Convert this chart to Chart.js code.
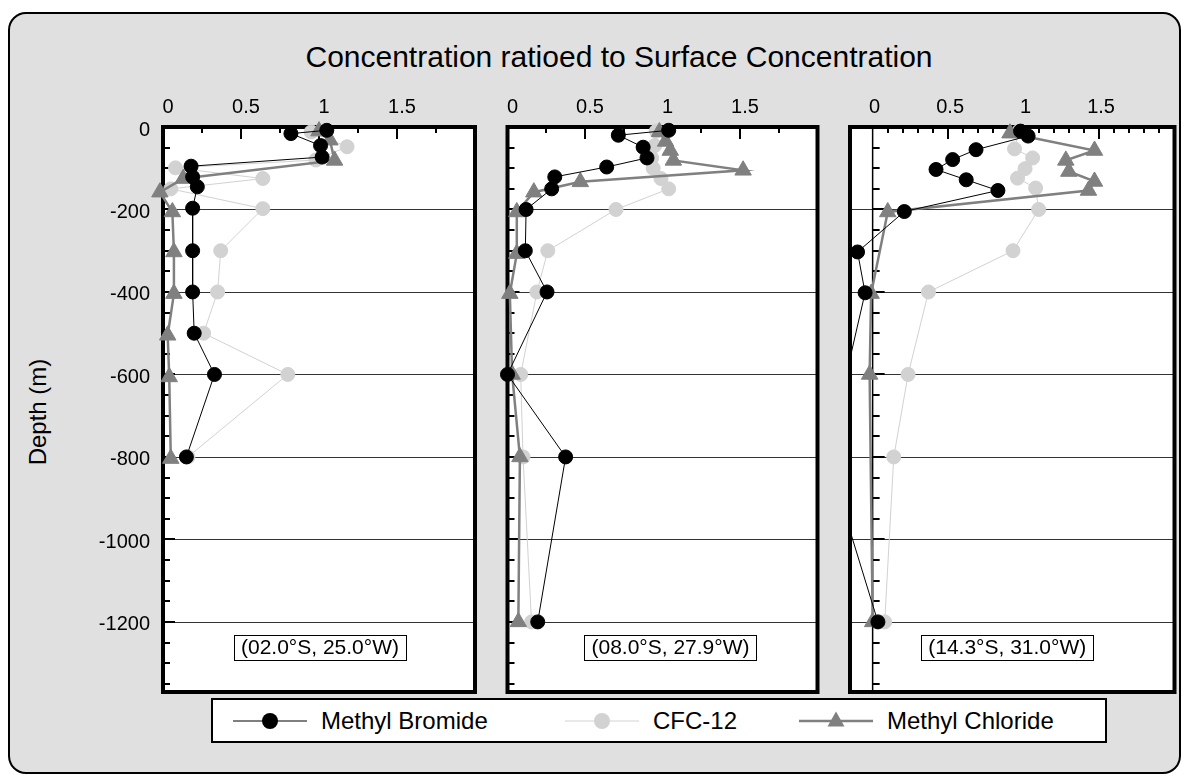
<!DOCTYPE html>
<html>
<head>
<meta charset="utf-8">
<script src="https://cdn.jsdelivr.net/npm/chart.js@4.4.0/dist/chart.umd.min.js"></script>
<style>
  body { margin: 0; width: 1189px; height: 783px; position: relative; overflow: hidden; background: #fff;
         font-family: Arial, "Liberation Sans", sans-serif; }
  #frame { position: absolute; left: 8px; top: 12px; width: 1173px; height: 762px; box-sizing: border-box;
           border: 2.5px solid #000; border-radius: 18px; background: #e0e0e0; }
  #title { position: absolute; left: 219px; width: 800px; top: 40px; text-align: center;
           font-size: 30px; line-height: 34px; color: #000; }
  #ylabel { position: absolute; left: 38px; top: 412px; transform: translate(-50%, -50%) rotate(-90deg);
            font-size: 24px; white-space: nowrap; color: #000; }
  canvas { position: absolute; }
  #legend { position: absolute; left: 211px; top: 698px; width: 896px; height: 45px; box-sizing: border-box;
            border: 2px solid #000; background: #fff; }
  .item { position: absolute; top: 0; height: 41px; display: flex; align-items: center; font-size: 24px; white-space: nowrap; }
  .item svg { margin-right: 14px; }
</style>
</head>
<body>
<div id="frame"></div>
<div id="title">Concentration ratioed to Surface Concentration</div>
<div id="ylabel">Depth (m)</div>
<canvas id="p1" width="400" height="637" style="left:90px;top:80px"></canvas>
<canvas id="p2" width="340" height="630" style="left:490px;top:80px"></canvas>
<canvas id="p3" width="350" height="630" style="left:835px;top:80px"></canvas>
<div id="legend"></div>
<script>
// series names and station labels
const seriesNames = ['Methyl Bromide', 'CFC-12', 'Methyl Chloride'];
const stations = ['(02.0°S, 25.0°W)', '(08.0°S, 27.9°W)', '(14.3°S, 31.0°W)'];

// axis ticks
const xTickLabels = [0, 0.5, 1, 1.5];
const depthTickLabels = [0, -200, -400, -600, -800, -1000, -1200];
const depthGrid = [-200, -400, -600, -800, -1000, -1200];

// panel 1 (02.0°S, 25.0°W)
const p1BromideDepth = [-8, -16, -45, -73, -95, -121, -145, -197, -300, -400, -500, -600, -800];
const p1BromideRatio = [1.05, 0.82, 1.01, 1.02, 0.18, 0.19, 0.22, 0.19, 0.19, 0.19, 0.20, 0.33, 0.15];
const p1CfcDepth = [-12, -48, -80, -99, -125, -150, -198, -300, -400, -500, -600, -800];
const p1CfcRatio = [0.95, 1.18, 0.98, 0.08, 0.64, 0.05, 0.64, 0.37, 0.35, 0.26, 0.80, 0.16];
const p1ChlorideDepth = [-10, -32, -81, -125, -158, -206, -303, -404, -505, -606, -804];
const p1ChlorideRatio = [1.0, 1.07, 1.10, 0.13, -0.02, 0.06, 0.07, 0.07, 0.03, 0.04, 0.05];

// panel 2 (08.0°S, 27.9°W)
const p2BromideDepth = [-8, -20, -49, -75, -97, -121, -150, -200, -300, -400, -600, -800, -1200];
const p2BromideRatio = [1.04, 0.715, 0.875, 0.90, 0.64, 0.305, 0.285, 0.12, 0.115, 0.255, 0.0, 0.375, 0.195];
const p2CfcDepth = [-10, -45, -75, -100, -125, -150, -200, -300, -400, -600, -800, -1200];
const p2CfcRatio = [0.96, 0.95, 0.93, 0.94, 0.99, 1.04, 0.70, 0.26, 0.19, 0.085, 0.10, 0.155];
const p2ChlorideDepth = [-12, -35, -57, -81, -105, -133, -158, -206, -307, -404, -600, -800, -1200];
const p2ChlorideRatio = [0.98, 1.02, 1.05, 1.07, 1.52, 0.47, 0.17, 0.06, 0.06, 0.015, 0.03, 0.08, 0.07];

// panel 3 (14.3°S, 31.0°W)
const p3BromideDepth = [-10, -22, -55, -79, -103, -128, -154, -205, -303, -402, -800, -1200];
const p3BromideRatio = [0.98, 1.03, 0.685, 0.53, 0.42, 0.62, 0.83, 0.21, -0.10, -0.05, -0.30, 0.035];
const p3CfcDepth = [-10, -53, -75, -101, -124, -148, -200, -300, -400, -600, -800, -1200];
const p3CfcRatio = [0.97, 0.94, 1.06, 1.01, 0.96, 1.08, 1.10, 0.93, 0.37, 0.235, 0.14, 0.08];
const p3ChlorideDepth = [-15, -57, -81, -108, -132, -154, -206, -404, -600, -1200];
const p3ChlorideRatio = [0.91, 1.47, 1.28, 1.30, 1.47, 1.43, 0.10, -0.01, -0.02, 0.0];

const FONT = 'Arial, "Liberation Sans", sans-serif';
const styles = [
  { color: '#000000', lineWidth: 1, pointStyle: 'circle', radius: 7, order: 0 },
  { color: '#d2d2d2', lineWidth: 1, pointStyle: 'circle', radius: 7, order: 2 },
  { color: '#808080', lineWidth: 2.5, pointStyle: 'triangle', radius: 9.5, order: 1 }
];

function pts(ratio, depth) {
  return ratio.map((v, i) => ({ x: v, y: depth[i] }));
}

function series(k, data, clip) {
  const s = styles[k];
  return {
    label: seriesNames[k], data: data, showLine: true, order: s.order, clip: clip,
    borderColor: s.color, backgroundColor: s.color, borderWidth: s.lineWidth,
    pointStyle: s.pointStyle, pointRadius: s.radius, pointBorderWidth: 1,
    pointBorderColor: s.color, pointBackgroundColor: s.color
  };
}

// frame, grid lines, inward ticks and station label
const panelDecor = {
  id: 'panelDecor',
  beforeDatasetsDraw(chart, args, opts) {
    const { ctx, chartArea: a, scales: { x, y } } = chart;
    ctx.save();
    ctx.fillStyle = '#fff';
    ctx.fillRect(a.left, a.top, a.right - a.left, a.bottom - a.top);
    ctx.strokeStyle = '#333'; ctx.lineWidth = 1;
    depthGrid.forEach(d => {
      const py = Math.round(y.getPixelForValue(d)) + 0.5;
      ctx.beginPath(); ctx.moveTo(a.left, py); ctx.lineTo(a.right, py); ctx.stroke();
    });
    // depth ticks every 50 m
    const ax = opts.zeroAxis ? x.getPixelForValue(0) : a.left;
    ctx.strokeStyle = '#000'; ctx.lineWidth = 2;
    for (let d = 0; d >= y.min; d -= 50) {
      const py = Math.round(y.getPixelForValue(d));
      const len = d % 200 === 0 ? 12 : 7;
      ctx.beginPath(); ctx.moveTo(ax, py); ctx.lineTo(ax + len, py); ctx.stroke();
    }
    if (opts.zeroAxis) {
      ctx.lineWidth = 1.5;
      ctx.beginPath(); ctx.moveTo(ax, a.top); ctx.lineTo(ax, a.bottom); ctx.stroke();
    }
    // top ticks
    ctx.lineWidth = 2;
    const step = opts.minorStep;
    for (let v = step; v < x.max - 1e-6; v += step) {
      const px = Math.round(x.getPixelForValue(v));
      const major = Math.abs(v / 0.5 - Math.round(v / 0.5)) < 1e-6;
      ctx.beginPath(); ctx.moveTo(px, a.top); ctx.lineTo(px, a.top + (major ? 12 : 6)); ctx.stroke();
    }
    ctx.lineWidth = 4;
    ctx.strokeRect(a.left, a.top, a.right - a.left, a.bottom - a.top);
    ctx.restore();
  },
  afterDatasetsDraw(chart, args, opts) {
    const { ctx, chartArea: a, scales: { y } } = chart;
    ctx.save();
    ctx.font = '21px ' + FONT;
    const w = ctx.measureText(opts.station).width + 14;
    const cx = (a.left + a.right) / 2 + opts.stationShift, cy = y.getPixelForValue(-1260);
    ctx.fillStyle = '#fff';
    ctx.fillRect(cx - w / 2, cy - 12, w, 25);
    ctx.strokeStyle = '#000'; ctx.lineWidth = 1;
    ctx.strokeRect(Math.round(cx - w / 2) + 0.5, Math.round(cy - 12) + 0.5, Math.round(w), 25);
    ctx.fillStyle = '#000'; ctx.textAlign = 'center'; ctx.textBaseline = 'middle';
    ctx.fillText(opts.station, cx, cy + 1.5);
    ctx.restore();
  }
};

function makePanel(id, cfg) {
  return new Chart(document.getElementById(id), {
    type: 'scatter',
    data: { datasets: [
      series(0, pts(cfg.bromide[0], cfg.bromide[1]), cfg.clip),
      series(1, pts(cfg.cfc[0], cfg.cfc[1]), cfg.clip),
      series(2, pts(cfg.chloride[0], cfg.chloride[1]), cfg.clip)
    ] },
    options: {
      responsive: false, animation: false, events: [],
      layout: { padding: cfg.pad },
      plugins: {
        legend: { display: false }, tooltip: { enabled: false },
        panelDecor: { station: cfg.station, stationShift: cfg.stationShift, zeroAxis: cfg.zeroAxis, minorStep: cfg.minorStep }
      },
      scales: {
        x: {
          type: 'linear', position: 'top', min: cfg.xMin, max: 2,
          afterBuildTicks: s => { s.ticks = xTickLabels.map(v => ({ value: v })); },
          afterFit: s => { s.height = 47; },
          grid: { display: false, drawTicks: false }, border: { display: false },
          ticks: { color: '#000', font: { size: 20, family: FONT }, padding: 8, labelOffset: cfg.labelOffset,
                   maxRotation: 0, autoSkip: false, callback: v => String(v) }
        },
        y: {
          type: 'linear', min: -1370, max: 0, display: cfg.showY,
          afterBuildTicks: s => { s.ticks = depthTickLabels.map(v => ({ value: v })); },
          afterFit: s => { s.width = cfg.showY ? 73 : 0; },
          grid: { display: false, drawTicks: false }, border: { display: false },
          ticks: { color: '#000', font: { size: 20, family: FONT }, padding: 13, labelOffset: 3,
                   autoSkip: false, callback: v => String(v) }
        }
      }
    },
    plugins: [panelDecor]
  });
}

// chart areas: top 127, bottom 692
makePanel('p1', {
  bromide: [p1BromideRatio, p1BromideDepth], cfc: [p1CfcRatio, p1CfcDepth], chloride: [p1ChlorideRatio, p1ChlorideDepth],
  station: stations[0], stationShift: 1, xMin: 0, showY: true, pad: { left: 0, top: 0, right: 15, bottom: 18 },
  labelOffset: 5, minorStep: 0.25, zeroAxis: false, clip: false
});
makePanel('p2', {
  bromide: [p2BromideRatio, p2BromideDepth], cfc: [p2CfcRatio, p2CfcDepth], chloride: [p2ChlorideRatio, p2ChlorideDepth],
  station: stations[1], stationShift: 8, xMin: 0, showY: false, pad: { left: 17.5, top: 0, right: 12.5, bottom: 18 },
  labelOffset: 5, minorStep: 0.25, zeroAxis: false, clip: false
});
makePanel('p3', {
  bromide: [p3BromideRatio, p3BromideDepth], cfc: [p3CfcRatio, p3CfcDepth], chloride: [p3ChlorideRatio, p3ChlorideDepth],
  station: stations[2], stationShift: -5, xMin: -0.15, showY: false, pad: { left: 15, top: 0, right: 9, bottom: 18 },
  labelOffset: 2, minorStep: 0.1, zeroAxis: true, clip: { left: 0, top: 12, right: 12, bottom: 12 }
});

// legend built from the series styles
const legend = document.getElementById('legend');
const itemLeft = [20, 352, 586];
seriesNames.forEach((name, k) => {
  const s = styles[k];
  const mark = s.pointStyle === 'circle'
    ? `<circle cx="37" cy="10" r="8" fill="${s.color}"/>`
    : `<polygon points="37,0.5 45.5,15.5 28.5,15.5" fill="${s.color}"/>`;
  const div = document.createElement('div');
  div.className = 'item';
  div.style.left = itemLeft[k] + 'px';
  div.innerHTML = `<svg width="74" height="20"><line x1="0" y1="10" x2="74" y2="10" stroke="${s.color}" stroke-width="${s.lineWidth}"/>${mark}</svg><span>${name}</span>`;
  legend.appendChild(div);
});
</script>
</body>
</html>
